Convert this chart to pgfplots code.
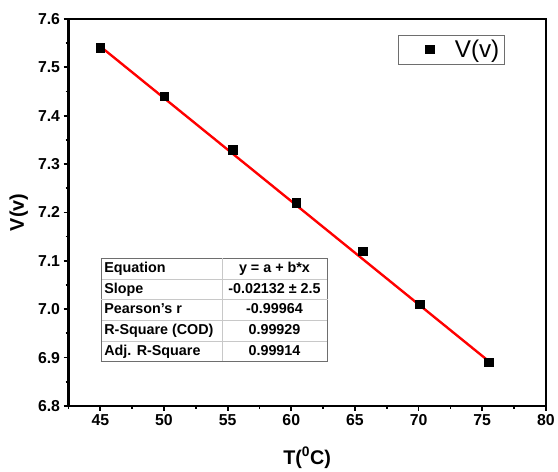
\documentclass[border=0pt]{standalone}
\usepackage{pgfplots}
\pgfplotsset{compat=1.18}
\usepackage{fontspec}
\setmainfont{Liberation Sans}
\usepackage{array}
\usepackage{colortbl}
\definecolor{tblborder}{RGB}{110,110,110}
\definecolor{tblinner}{RGB}{200,200,200}
\definecolor{fitred}{RGB}{255,0,0}
\begin{document}
\begin{tikzpicture}
\begin{axis}[
  scale only axis,
  width=481bp, height=390bp,
  xmin=42.5, xmax=80, ymin=6.8, ymax=7.6,
  xtick={45,50,...,80},
  minor xtick={42.5,47.5,...,77.5},
  ytick={6.8,6.9,7.0,7.1,7.2,7.3,7.4,7.5,7.6},
  minor ytick={6.85,6.95,7.05,7.15,7.25,7.35,7.45,7.55},
  tick pos=left,
  tick align=outside,
  major tick length=5bp,
  minor tick length=3bp,
  every tick/.style={black, line width=1.8bp},
  axis line style={line width=2.6bp},
  /pgf/number format/assume math mode=true,
  yticklabel style={/pgf/number format/.cd, fixed, fixed zerofill, precision=1},
  ticklabel style={font=\fontsize{16}{19}\selectfont\bfseries},
  every axis x label/.style={at={(axis description cs:0.5,0)}, anchor=center, yshift=-52bp},
  every axis y label/.style={at={(axis description cs:-0.104,0.5)}, anchor=center, rotate=90},
  xlabel={\fontsize{20}{24}\selectfont\bfseries T(\textsuperscript{0}C)},
  ylabel={\fontsize{20}{24}\selectfont\bfseries V(v)},
  clip=false,
  legend style={at={(axis description cs:0.690,0.959)}, anchor=north west,
    draw=tblborder, line width=0.8bp, inner xsep=3bp, inner ysep=3bp,
    nodes={inner xsep=2bp},
    font=\fontsize{24.5}{28}\selectfont},
  legend cell align=left,
]
\addplot[only marks, mark=square*, mark size=4.3bp, black,
  legend image code/.code={%
    \path[draw=none, fill=none] (0bp,-1bp) rectangle (52bp,1bp);
    \draw[mark=square*, mark size=4.3bp] plot coordinates {(29bp,0bp)};}
] coordinates {
  (45.0,7.54) (50.0,7.44) (55.4,7.33) (60.4,7.22) (65.6,7.12) (70.1,7.01) (75.5,6.89)
};
\addlegendentry{V(v)}
\addplot[fitred, line width=2.4bp, forget plot] coordinates {
  (45.0,7.5430) (75.5,6.8927)
};
\node[anchor=north west, inner sep=0pt, fill=white] at (axis cs:45.0,7.106) {%
  \fontsize{14.5}{17.5}\selectfont\bfseries
  \renewcommand{\arraystretch}{1.17}%
  \setlength{\tabcolsep}{3bp}%
  \arrayrulecolor{tblborder}%
  \begin{tabular}{!{\color{tblborder}\vrule width 0.9bp}p{115bp}!{\color{tblinner}\vrule}>{\centering\arraybackslash}p{100bp}!{\color{tblborder}\vrule width 0.9bp}}
  \arrayrulecolor{tblborder}\hline
  Equation & y = a + b*x \\
  \arrayrulecolor{tblinner}\hline
  Slope & -0.02132 ± 2.5 \\
  \arrayrulecolor{tblinner}\hline
  Pearson's r & -0.99964 \\
  \arrayrulecolor{tblinner}\hline
  R-Square (COD) & 0.99929 \\
  \arrayrulecolor{tblinner}\hline
  Adj. R-Square & 0.99914 \\
  \arrayrulecolor{tblborder}\hline
  \end{tabular}};
\end{axis}
\path ([shift={(-69bp,-65bp)}]current axis.south west) rectangle ([shift={(8bp,19bp)}]current axis.north east);
\end{tikzpicture}
\end{document}
